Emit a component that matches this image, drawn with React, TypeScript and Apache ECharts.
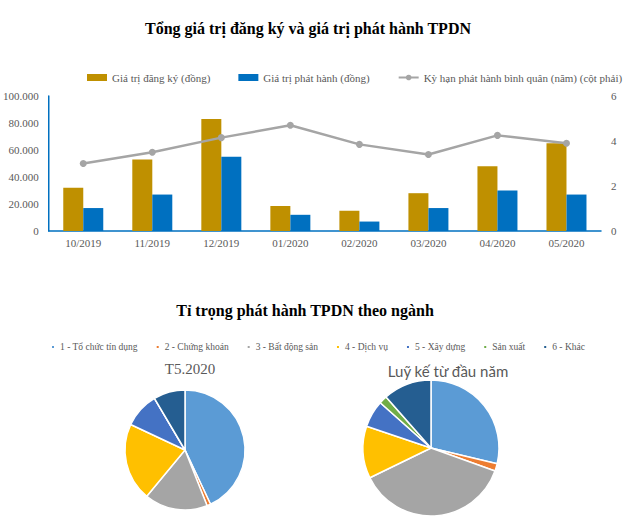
import React, { useEffect, useRef } from "react";
import * as echarts from "echarts";

const months = ["10/2019", "11/2019", "12/2019", "01/2020", "02/2020", "03/2020", "04/2020", "05/2020"];
const registered = [32000, 53000, 83000, 18500, 15000, 28000, 48000, 65000];
const issued = [17000, 27000, 55000, 12000, 7000, 17000, 30000, 27000];
const avgTerm = [3.0, 3.5, 4.15, 4.7, 3.85, 3.4, 4.25, 3.9];

const sectors = ["1 - Tổ chức tín dụng", "2 - Chứng khoán", "3 - Bất động sản", "4 - Dịch vụ", "5 - Xây dựng", "Sản xuất", "6 - Khác"];
const sectorColors = ["#5B9BD5", "#ED7D31", "#A5A5A5", "#FFC000", "#4472C4", "#70AD47", "#255E91"];
const shareMay2020 = [43, 1, 17, 21, 9.5, 0, 8.5];
const shareYtd = [28.7, 1.8, 37.3, 12.4, 6.4, 1.9, 11.5];

const serif = "Liberation Serif";
const grey = "#595959";

export default function App() {
  const ref = useRef<HTMLDivElement>(null);
  useEffect(() => {
    if (!ref.current) return;
    const chart = echarts.init(ref.current, null, { renderer: "svg" });
    const fmt = (v: number) => String(v).replace(/\B(?=(\d{3})+(?!\d))/g, ".");
    chart.setOption({
      animation: false,
      backgroundColor: "#fff",
      textStyle: { fontFamily: serif },
      title: [
        { text: "Tổng giá trị đăng ký và giá trị phát hành TPDN", left: 303, top: 15, textAlign: "center",
          textStyle: { fontFamily: serif, fontSize: 16, fontWeight: "bold", color: "#000" } },
        { text: "Tỉ trọng phát hành TPDN theo ngành", left: 300, top: 297, textAlign: "center",
          textStyle: { fontFamily: serif, fontSize: 16, fontWeight: "bold", color: "#000" } },
        { text: "T5.2020", left: 185, top: 356, textAlign: "center",
          textStyle: { fontFamily: serif, fontSize: 15, fontWeight: "normal", color: grey } },
        { text: "Luỹ kế từ đầu năm", left: 443, top: 358, textAlign: "center",
          textStyle: { fontFamily: "Lato", fontSize: 15, fontWeight: "normal", color: grey } },
      ],
      legend: [
        {
          left: 82, top: 67, itemWidth: 20, itemHeight: 7, itemGap: 28,
          textStyle: { fontFamily: serif, fontSize: 11, color: grey },
          data: [
            { name: "Giá trị đăng ký (đồng)", icon: "rect" },
            { name: "Giá trị phát hành (đồng)", icon: "rect" },
            { name: "Kỳ hạn phát hành bình quân (năm) (cột phải)" },
          ],
        },
        {
          left: 45, top: 337, itemWidth: 4, itemHeight: 4, itemGap: 17, icon: "rect",
          textStyle: { fontFamily: serif, fontSize: 9.5, color: grey },
          data: sectors,
        },
      ],
      grid: { left: 48, right: 39, top: 96, height: 135, containLabel: false },
      xAxis: {
        type: "category", data: months,
        axisLine: { lineStyle: { color: "#0070C0", width: 1.5 } },
        axisTick: { show: false },
        axisLabel: { fontFamily: serif, fontSize: 11, color: grey, margin: 6 },
      },
      yAxis: [
        {
          type: "value", min: 0, max: 100000, interval: 20000,
          axisLine: { show: true, lineStyle: { color: "#0070C0", width: 1.5 } },
          axisTick: { show: false }, splitLine: { show: false },
          axisLabel: { fontFamily: serif, fontSize: 11, color: grey, margin: 10, formatter: fmt },
        },
        {
          type: "value", min: 0, max: 6, interval: 2,
          axisLine: { show: false }, axisTick: { show: false }, splitLine: { show: false },
          axisLabel: { fontFamily: serif, fontSize: 11, color: grey, margin: 10 },
        },
      ],
      series: [
        { name: "Giá trị đăng ký (đồng)", type: "bar", data: registered, barWidth: 20, barGap: "0%",
          itemStyle: { color: "#BF9000" } },
        { name: "Giá trị phát hành (đồng)", type: "bar", data: issued, barWidth: 20, barGap: "0%",
          itemStyle: { color: "#0070C0" } },
        { name: "Kỳ hạn phát hành bình quân (năm) (cột phải)", type: "line", yAxisIndex: 1, data: avgTerm,
          symbol: "circle", symbolSize: 7, lineStyle: { color: "#A5A5A5", width: 2.5 },
          itemStyle: { color: "#A5A5A5" } },
        {
          type: "pie", center: [185, 450], radius: 60, startAngle: 90, clockwise: true,
          label: { show: false }, labelLine: { show: false },
          itemStyle: { borderColor: "#fff", borderWidth: 1.5 },
          data: sectors.map((n, i) => ({ name: n, value: shareMay2020[i], itemStyle: { color: sectorColors[i] } })),
        },
        {
          type: "pie", center: [431, 448], radius: 68, startAngle: 90, clockwise: true,
          label: { show: false }, labelLine: { show: false },
          itemStyle: { borderColor: "#fff", borderWidth: 1.5 },
          data: sectors.map((n, i) => ({ name: n, value: shareYtd[i], itemStyle: { color: sectorColors[i] } })),
        },
      ],
    });
    return () => chart.dispose();
  }, []);
  return <div ref={ref} style={{ position: "fixed", left: 0, top: 0, width: 640, height: 527 }} />;
}
